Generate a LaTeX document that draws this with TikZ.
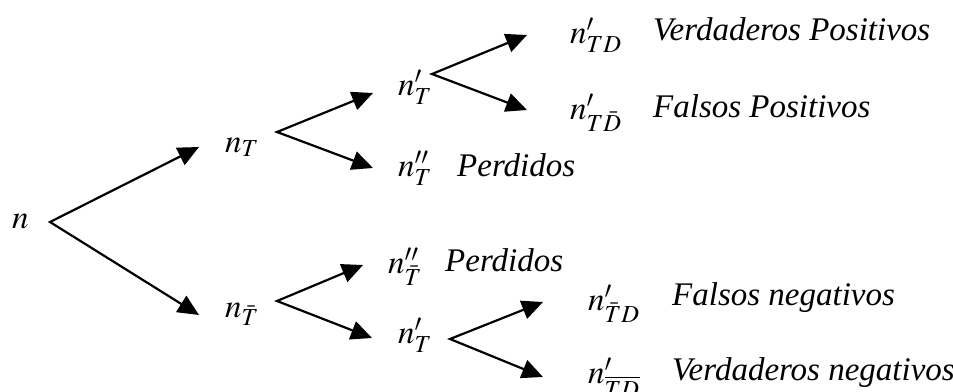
\documentclass[tikz,border=0pt]{standalone}
\usepackage{mathptmx}
\usepackage{fontspec}
\setmainfont{Liberation Serif}
\usetikzlibrary{arrows.meta}
\begin{document}
\begin{tikzpicture}[x=1pt,y=-1pt,
  lbl/.style={anchor=base west,inner sep=0pt,font=\fontsize{33}{40}\selectfont\itshape},
  mth/.style={anchor=base west,inner sep=0pt,font=\fontsize{33}{40}\selectfont},
  fork/.style={line width=2.2pt,line join=miter,
    {Triangle[length=21pt,width=19pt]}-{Triangle[length=21pt,width=19pt]}}]
\useasboundingbox (0,0) rectangle (953,391);
% text nodes
\node[mth] (n)    at (12,228)  {$n$};
\node[mth] (nT)   at (225,152) {$n_T$};
\node[mth] (nTb)  at (225,317) {$n_{\bar T}$};
\node[mth] (nTp)  at (398,95)  {$n'_T$};
\node[mth] (nTpp) at (398,176) {$n''_T$};
\node[mth] (nTbpp) at (388,273) {$n''_{\bar T}$};
\node[mth] (nTp2) at (398,343) {$n'_T$};
\node[mth] (nTD)  at (570,43)  {$n'_{TD}$};
\node[mth] (nTDb) at (570,119) {$n'_{T\bar D}$};
\node[mth] (nTbD) at (588,310) {$n'_{\bar T D}$};
\node[mth] (nTDbb) at (588,383) {$n'_{\overline{TD}}$};
\node[lbl] (vp)  at (653,40)  {Verdaderos Positivos};
\node[lbl] (fp)  at (653,117) {Falsos Positivos};
\node[lbl] (p1)  at (457,176) {Perdidos};
\node[lbl] (p2)  at (445,271) {Perdidos};
\node[lbl] (fn)  at (672,305) {Falsos negativos};
\node[lbl] (vn)  at (672,380) {Verdaderos negativos};
% fork points and arrow tips
\coordinate (s0) at (50,222);
\coordinate (a0) at (199,147);
\coordinate (b0) at (199,315);
\coordinate (s1) at (277,132);
\coordinate (a1) at (373,93);
\coordinate (b1) at (373,168);
\coordinate (s2) at (432,74);
\coordinate (a2) at (527,35);
\coordinate (b2) at (527,110);
\coordinate (s3) at (277,301);
\coordinate (a3) at (363,265);
\coordinate (b3) at (372,338);
\coordinate (s4) at (450,339);
\coordinate (a4) at (543,302);
\coordinate (b4) at (543,377);
\draw[fork] (a0) -- (s0) -- (b0);
\draw[fork] (a1) -- (s1) -- (b1);
\draw[fork] (a2) -- (s2) -- (b2);
\draw[fork] (a3) -- (s3) -- (b3);
\draw[fork] (a4) -- (s4) -- (b4);
\end{tikzpicture}
\end{document}
